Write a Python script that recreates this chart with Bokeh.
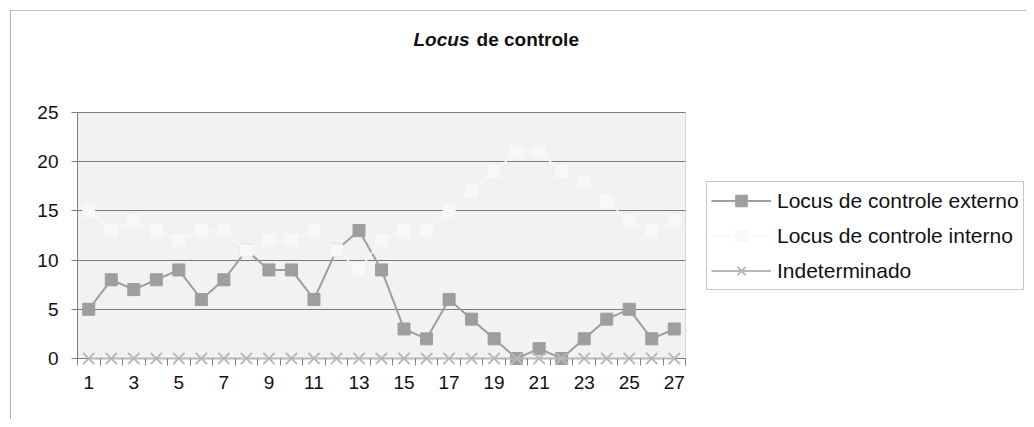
from bokeh.plotting import figure
from bokeh.models import (ColumnDataSource, FixedTicker, Legend, LegendItem, Label,
                          Range1d, BoxAnnotation)
from bokeh.embed import file_html
from bokeh.resources import INLINE

# ---- data ----
categories = list(range(1, 28))
externo = [5, 8, 7, 8, 9, 6, 8, 11, 9, 9, 6, 11, 13, 9, 3, 2, 6, 4, 2, 0, 1, 0, 2, 4, 5, 2, 3]
interno = [15, 13, 14, 13, 12, 13, 13, 11, 12, 12, 13, 11, 9, 12, 13, 13, 15, 17, 19, 21, 21, 19, 18, 16, 14, 13, 14]
indeterminado = [0] * 27
y_ticks = [0, 5, 10, 15, 20, 25]
x_label_ticks = list(range(1, 28, 2))
title_part1 = "Locus"
title_part2 = "de controle"
series_names = ["Locus de controle externo", "Locus de controle interno", "Indeterminado"]

FONT = "Liberation Sans"
GREY = "#9e9e9e"
XGREY = "#b8b8b8"
INV = "#f8f8f8"

# ---- layout constants (pixels in the figure) ----
W, H = 1026, 419
LEFT, TOP = 77, 16
ZERO_PX = 358                          # y=0 position from figure top
TICK = 7                               # frame extends this far below y=0
BOTTOM = H - ZERO_PX - TICK
PX_X = 22.52                           # px per category
PX_Y = 9.84                            # px per y unit
X0 = 0.5
frame_w = W - LEFT
frame_h = H - TOP - BOTTOM
y_start = -TICK / PX_Y
x_end = X0 + frame_w / PX_X
y_end = y_start + frame_h / PX_Y
X_MAX = 27.5
Y_MAX = 25

src = ColumnDataSource(dict(x=categories, ext=externo, inn=interno, ind=indeterminado))

p = figure(width=W, height=H, output_backend="svg", toolbar_location=None,
           x_range=Range1d(X0, x_end), y_range=Range1d(y_start, y_end),
           min_border_left=LEFT, min_border_right=0, min_border_top=TOP,
           min_border_bottom=BOTTOM,
           styles={"background": "linear-gradient(#b4b4b4,#b4b4b4) 10px 10px / 1px 100% no-repeat, "
                                 "linear-gradient(#c4c4c4,#c4c4c4) 10px 10px / 100% 1px no-repeat, "
                                 "white"})

p.background_fill_color = "white"
p.border_fill_color = "white"
p.border_fill_alpha = 0
p.outline_line_color = None

# plot area (grey) with border
p.add_layout(BoxAnnotation(left=X0, right=X_MAX, bottom=0, top=Y_MAX,
                           fill_color="#f2f2f2", fill_alpha=1,
                           line_color="#8a8a8a", line_width=1, level="underlay"))

# axes
p.xaxis.ticker = FixedTicker(ticks=x_label_ticks,
                             minor_ticks=[i + 0.5 for i in range(0, 28)])
p.yaxis.ticker = FixedTicker(ticks=y_ticks)
p.xaxis.bounds = (X0, X_MAX)
p.yaxis.bounds = (0, Y_MAX)
for ax in (p.xaxis[0], p.yaxis[0]):
    ax.axis_line_color = "#808080"
    ax.axis_line_width = 1
    ax.major_label_text_font = FONT
    ax.major_label_text_font_size = "19px"
    ax.major_label_text_color = "#111111"
p.xaxis.axis_line_color = None
p.xaxis.major_tick_line_color = None
p.xaxis.major_tick_out = 0
p.xaxis.major_tick_in = 0
p.xaxis.minor_tick_line_color = "#808080"
p.xaxis.minor_tick_out = 0
p.xaxis.minor_tick_in = TICK
p.xaxis.major_label_standoff = 10
p.yaxis.major_tick_line_color = "#808080"
p.yaxis.major_tick_out = 6
p.yaxis.major_tick_in = 0
p.yaxis.minor_tick_line_color = None
p.yaxis.major_label_standoff = 13

p.xgrid.grid_line_color = None
grid = p.ygrid[0]
grid.grid_line_color = "#7a7a7a"
grid.grid_line_width = 1
if "cross_bounds" in grid.properties():
    grid.cross_bounds = (X0, X_MAX)
# grid must be drawn over the grey plot area: re-add it after the box
if grid in p.center:
    p.center.remove(grid)
p.add_layout(grid, "center")

# series
r_ext_l = p.line("x", "ext", source=src, line_color=GREY, line_width=2)
r_ext_m = p.scatter("x", "ext", source=src, marker="square", size=12,
                    fill_color=GREY, line_color=GREY)
r_inn_l = p.line("x", "inn", source=src, line_color=INV, line_width=1.5)
r_inn_m = p.scatter("x", "inn", source=src, marker="square", size=12,
                    fill_color=INV, line_color=INV)
r_ind_l = p.line("x", "ind", source=src, line_color=XGREY, line_width=2)
r_ind_m = p.scatter("x", "ind", source=src, marker="x", size=16,
                    line_color=XGREY, line_width=2)

legend = Legend(items=[
    LegendItem(label=series_names[0], renderers=[r_ext_l, r_ext_m]),
    LegendItem(label=series_names[1], renderers=[r_inn_l, r_inn_m]),
    LegendItem(label=series_names[2], renderers=[r_ind_l, r_ind_m]),
], location=(706 - LEFT, 75))
legend.label_text_font = FONT
legend.label_text_font_size = "21px"
legend.label_text_color = "#111111"
legend.glyph_width = 60
legend.glyph_height = 29
legend.spacing = 6
legend.label_standoff = 6
legend.padding = 4
legend.margin = 0
legend.border_line_color = "#909090"
legend.border_line_width = 1
legend.background_fill_color = "white"
legend.background_fill_alpha = 1
p.add_layout(legend, "center")

# title (Locus in italic)
t1 = Label(x=15.42, y=32.4, text=title_part1, text_font=FONT, text_font_size="19px",
           text_font_style="bold italic", text_color="#111111",
           text_baseline="alphabetic")
t2 = Label(x=18.22, y=32.4, text=title_part2, text_font=FONT, text_font_size="19px",
           text_font_style="bold", text_color="#111111", text_baseline="alphabetic")
p.add_layout(t1)
p.add_layout(t2)

open("out.html", "w").write(file_html(p, INLINE))
